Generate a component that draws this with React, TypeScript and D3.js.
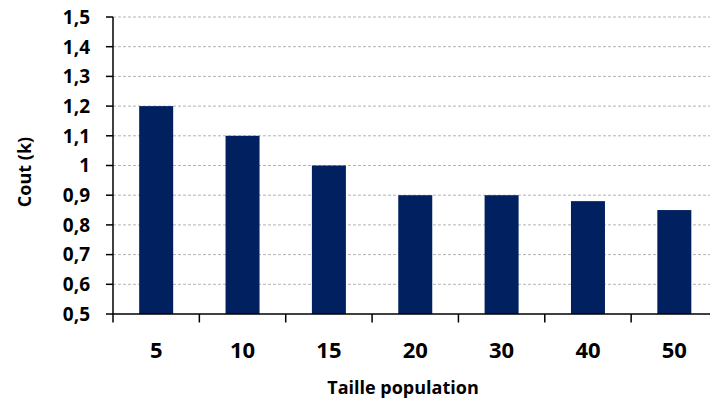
import React from "react";
import * as d3 from "d3";

const categories = ["5", "10", "15", "20", "30", "40", "50"];
const costValues = [1.2, 1.1, 1.0, 0.9, 0.9, 0.88, 0.85];
const yTicks = [0.5, 0.6, 0.7, 0.8, 0.9, 1.0, 1.1, 1.2, 1.3, 1.4, 1.5];

const W = 710;
const H = 400;
const left = 113;
const right = 717.5;
const top = 17;
const bottom = 314;
const FONT = "'Open Sans', 'Noto Sans', sans-serif";

export default function App() {
  const xb = d3.scaleBand<string>().domain(categories).range([left, right]);
  const y = d3.scaleLinear().domain([0.5, 1.5]).range([bottom, top]);
  const fmt = (v: number) => d3.format("~g")(+v.toFixed(1)).replace(".", ",");
  const bw = 34;

  return (
    <svg width={W} height={H} style={{ position: "absolute", left: 0, top: 0, background: "#fff" }} fontFamily={FONT}>
      {yTicks.slice(1).map((t) => (
        <line key={"g" + t} x1={left} x2={W} y1={y(t)} y2={y(t)} stroke="#b3b3b3" strokeWidth={1} strokeDasharray="3,2" />
      ))}
      {categories.map((c, i) => (
        <rect
          key={c}
          x={(xb(c) as number) + xb.bandwidth() / 2 - bw / 2}
          y={y(costValues[i])}
          width={bw}
          height={bottom - y(costValues[i])}
          fill="#002060"
        />
      ))}
      <line x1={left} x2={left} y1={top} y2={bottom} stroke="#000" strokeWidth={1.5} />
      <line x1={left} x2={W} y1={bottom} y2={bottom} stroke="#000" strokeWidth={1.5} />
      {yTicks.map((t) => (
        <g key={"y" + t}>
          <line x1={106} x2={left} y1={y(t)} y2={y(t)} stroke="#000" strokeWidth={1.5} />
          <text x={90} y={y(t)} dy="0.36em" textAnchor="end" fontSize={19} fontWeight="bold" fill="#000">
            {fmt(t)}
          </text>
        </g>
      ))}
      {categories.map((c) => (
        <line key={"xt" + c} x1={xb(c) as number} x2={xb(c) as number} y1={bottom} y2={322.5} stroke="#000" strokeWidth={1.5} />
      ))}
      {categories.map((c) => (
        <text key={"xl" + c} x={(xb(c) as number) + xb.bandwidth() / 2} y={358} textAnchor="middle" fontSize={22} fontWeight="bold" fill="#000">
          {c}
        </text>
      ))}
      <text x={403} y={394} textAnchor="middle" fontSize={18} fontWeight="bold" fill="#000">
        Taille population
      </text>
      <text transform="translate(31,172) rotate(-90)" textAnchor="middle" fontSize={18} fontWeight="bold" fill="#000">
        Cout (k)
      </text>
    </svg>
  );
}
